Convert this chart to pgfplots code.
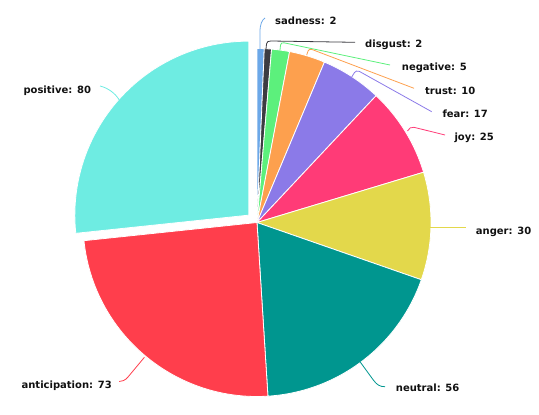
\documentclass[border=0pt]{standalone}
\usepackage{pgfplots}
\pgfplotsset{compat=1.18}
\usepackage{pgfplotstable}
\usepackage{fontspec}
\setmainfont{DejaVu Sans}
\definecolor{cSad}{HTML}{6CA8E8}
\definecolor{cDis}{HTML}{3C3C42}
\definecolor{cNeg}{HTML}{5CF07C}
\definecolor{cTru}{HTML}{FDA04E}
\definecolor{cFea}{HTML}{8B7AE8}
\definecolor{cJoy}{HTML}{FF3B77}
\definecolor{cAng}{HTML}{E3D84B}
\definecolor{cNeu}{HTML}{00968F}
\definecolor{cAnt}{HTML}{FF3E4C}
\definecolor{cPos}{HTML}{6EECE2}
\definecolor{txt}{HTML}{111111}
\newcommand\lab{\bfseries\fontsize{10.04}{12}\selectfont}
\pgfplotstableread{
label value col explode
sadness 2 cSad 0
disgust 2 cDis 0
negative 5 cNeg 0
trust 10 cTru 0
fear 17 cFea 0
joy 25 cJoy 0
anger 30 cAng 0
neutral 56 cNeu 0
anticipation 73 cAnt 0
positive 80 cPos 11
}\piedata
\begin{document}
\begin{tikzpicture}
\begin{axis}[hide axis, scale only axis, width=539bp, height=415bp,
  xmin=0, xmax=539, ymin=0, ymax=415, y dir=reverse, clip=false]
\path (axis cs:0,0) rectangle (axis cs:539,415);
\def\cum{0}
\pgfplotsforeachungrouped \i in {0,...,9}{%
  \pgfplotstablegetelem{\i}{value}\of\piedata \let\v\pgfplotsretval
  \pgfplotstablegetelem{\i}{col}\of\piedata \let\c\pgfplotsretval
  \pgfplotstablegetelem{\i}{explode}\of\piedata \let\ex\pgfplotsretval
  \pgfmathsetmacro\sa{90-\cum*1.2}%
  \pgfmathsetmacro\cum{\cum+\v}%
  \pgfmathsetmacro\ea{90-\cum*1.2}%
  \pgfmathsetmacro\ma{(\sa+\ea)/2}%
  \pgfmathsetmacro\cx{257+\ex*cos(\ma)}%
  \pgfmathsetmacro\cy{222.5-\ex*sin(\ma)}%
  \edef\temp{\noexpand\fill[\c, draw=white, line width=0.8bp, line join=round] (axis cs:\cx,\cy) -- ++(\sa:174bp) arc[start angle=\sa, end angle=\ea, radius=174bp] -- cycle;}%
  \temp
}
% leader lines
\draw[cSad, line width=0.8bp] (axis cs:260,49) -- (axis cs:260,32) .. controls (axis cs:260,24) and (axis cs:262,20) .. (axis cs:265,18);
\draw[cDis, line width=0.8bp] (axis cs:266,49) -- (axis cs:266.5,44) .. controls (axis cs:267,41.5) and (axis cs:268,41) .. (axis cs:271,41) -- (axis cs:355,42.3);
\draw[cNeg, line width=0.8bp] (axis cs:280,50) -- (axis cs:280.5,45) .. controls (axis cs:281,43) and (axis cs:282,42.7) .. (axis cs:284,42.8) -- (axis cs:390,65);
\draw[cTru, line width=0.8bp] (axis cs:306.7,55) -- (axis cs:308,51) .. controls (axis cs:308.5,49.5) and (axis cs:310,49.3) .. (axis cs:312,49.5) -- (axis cs:414,88.3);
\draw[cFea, line width=0.8bp] (axis cs:351.7,77) -- (axis cs:354.5,72.5) .. controls (axis cs:355.5,71) and (axis cs:357,70.8) .. (axis cs:359,71.2) -- (axis cs:431.7,111.7);
\draw[cJoy, line width=0.8bp] (axis cs:407.5,131) .. controls (axis cs:409,128) and (axis cs:411,127) .. (axis cs:414,127.3) -- (axis cs:445,135);
\draw[cAng, line width=0.8bp] (axis cs:430,227) -- (axis cs:466,227);
\draw[cNeu, line width=0.8bp] (axis cs:360,361.7) -- (axis cs:373.3,380) .. controls (axis cs:377,385) and (axis cs:380,386.7) .. (axis cs:385,386.7);
\draw[cAnt, line width=0.8bp] (axis cs:144.4,357.3) -- (axis cs:128,377) .. controls (axis cs:125,380.5) and (axis cs:122,381.5) .. (axis cs:119.2,381.5);
\draw[cPos, line width=0.8bp] (axis cs:100,86) .. controls (axis cs:108,88) and (axis cs:115,93) .. (axis cs:119.3,100);
% labels
\begin{scope}[every node/.style={anchor=base west, inner sep=0pt, font=\lab, text=txt}]
\node at (axis cs:275,25) {sadness: 2};
\node at (axis cs:365,47.7) {disgust: 2};
\node at (axis cs:401.7,71) {negative: 5};
\node at (axis cs:425,94.3) {trust: 10};
\node at (axis cs:442.3,117.7) {fear: 17};
\node at (axis cs:454.3,140.7) {joy: 25};
\node at (axis cs:475.7,234) {anger: 30};
\node at (axis cs:395.7,391.7) {neutral: 56};
\node at (axis cs:21.4,388.4) {anticipation: 73};
\node at (axis cs:23.3,93.3) {positive: 80};
\end{scope}
\end{axis}
\end{tikzpicture}
\end{document}
